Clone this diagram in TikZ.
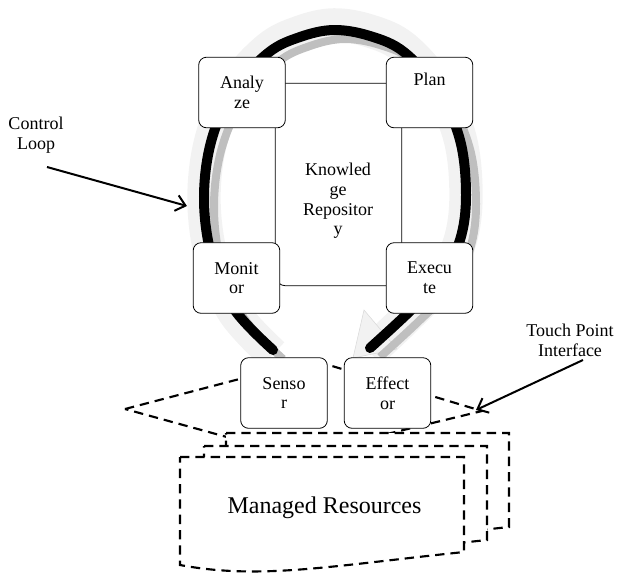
\documentclass[tikz,border=0pt]{standalone}
\usepackage{fontspec}
\setmainfont{Liberation Serif}
\usetikzlibrary{arrows.meta}

\begin{document}
\begin{tikzpicture}[
  x=0.75pt, y=-0.75pt,
  box/.style={draw, fill=white, rounded corners=6pt, line width=0.6pt,
              minimum width=65pt, minimum height=53pt, inner sep=0pt,
              align=center, font=\fontsize{13.5}{14.8}\selectfont},
  repo/.style={draw, fill=white, rounded corners=8pt, line width=0.6pt,
               minimum width=95pt, minimum height=152pt, inner sep=0pt},
  lbl/.style={align=center, font=\fontsize{13.5}{14.8}\selectfont},
  dashline/.style={line width=1.6pt, dash pattern=on 7pt off 4.5pt},
  pointer/.style={line width=1.5pt, -{Straight Barb[length=7pt, width=12pt]}},
  glow/.style={draw, line width=25pt, gray!10},
  loopshadow/.style={draw, line width=6pt, black!25},
  band/.style={draw, line width=7.5pt, black, line cap=round},
  ctrlloop/.pic={
    \path[pic actions] plot[smooth, tension=0.6] coordinates {
      (-61,150) (-100,109) (-122,58) (-130,0) (-123,-58) (-101,-109)
      (-66,-147) (-34,-163) (0,-170) (36,-164) (70,-148) (104,-110)
      (126,-60) (132,-5) (126,40) (106,80) (74,113) (36,148)};
  }
]
  \useasboundingbox (0,0) rectangle (618,572);

  % control loop
  \pic[glow, yscale=1.03] at (334,200) {ctrlloop};
  \filldraw[fill=gray!10, draw=gray!30, line width=0.4pt]
    (364,310) -- (353,358) -- (397,349) -- cycle;
  \pic[loopshadow] at (344,209) {ctrlloop};
  \pic[band] at (334,200) {ctrlloop};

  % knowledge and MAPE boxes
  \node[repo] (kr) at (338.5,184.5) {};
  \node[lbl]  (krtext) at (338,201) {Knowled\\ge\\Repositor\\y};

  \node[box] (ana)  at (242,92.5)  {Analy\\ze};
  \node[box] (plan) at (429.5,92.5) {Plan\\\strut};
  \node[box] (mon)  at (236.5,278) {Monit\\or};
  \node[box] (exe)  at (429.5,278) {Execu\\te};

  % touch point plane
  \coordinate (tpL) at (125,409);
  \coordinate (tpT) at (312,360);
  \coordinate (tpR) at (482,411);
  \coordinate (tpB) at (296,456);
  \draw[dashline] (tpL) -- (tpT) -- (tpR) -- (tpB) -- cycle;

  % managed resources (stacked)
  \draw[dashline, fill=white] (226,433) -- (509,433) -- (509,527)
    .. controls (375,541) and (305,555) .. (226,540) -- cycle;
  \draw[dashline, fill=white] (204,446) -- (487,446) -- (487,540)
    .. controls (353,554) and (283,568) .. (204,553) -- cycle;
  \draw[dashline, fill=white] (180,457) -- (464,457) -- (464,552)
    .. controls (330,566) and (260,580) .. (180,565) -- cycle;
  \node[font=\fontsize{18}{21}\selectfont, anchor=base] (mr) at (324.5,513) {Managed Resources};

  \node[box] (sen) at (284,393)   {Senso\\r};
  \node[box] (eff) at (387.5,393) {Effect\\or};

  % callouts
  \node[lbl] (cl) at (36,135)  {Control\\Loop};
  \node[lbl] (tp) at (570,340) {Touch Point\\Interface};
  \coordinate (clTail) at (47,167);
  \coordinate (clTip)  at (187,206);
  \coordinate (tpTail) at (583,360);
  \coordinate (tpTip)  at (476,410);
  \draw[pointer] (clTail) -- (clTip);
  \draw[pointer] (tpTail) -- (tpTip);
\end{tikzpicture}
\end{document}
